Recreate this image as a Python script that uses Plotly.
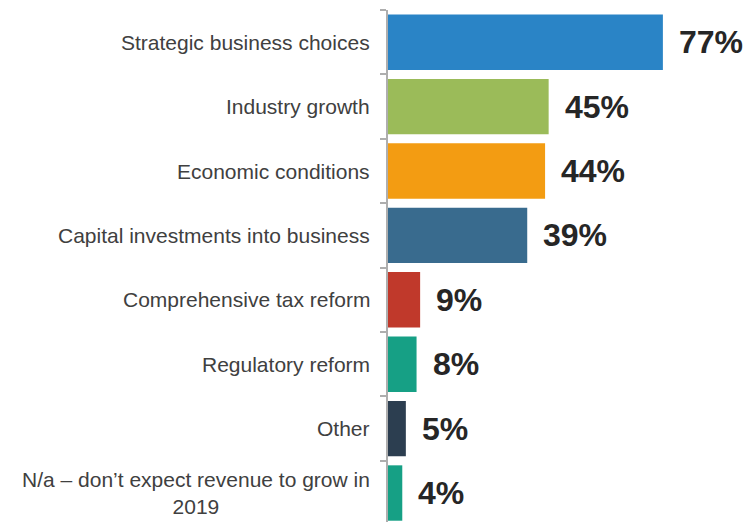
import plotly.graph_objects as go

categories = [
    "Strategic business choices",
    "Industry growth",
    "Economic conditions",
    "Capital investments into business",
    "Comprehensive tax reform",
    "Regulatory reform",
    "Other",
    "N/a – don’t expect revenue to grow in<br>2019",
]
values = [77, 45, 44, 39, 9, 8, 5, 4]
colors = ["#2A84C6", "#9BBB59", "#F39C12", "#396B8E",
          "#C0392B", "#16A085", "#2C3E50", "#16A085"]
value_labels = [f"{v}%" for v in values]

positions = list(range(len(categories)))

fig = go.Figure()
fig.add_trace(go.Bar(
    x=values,
    y=positions,
    orientation="h",
    marker=dict(color=colors, line=dict(width=0)),
    width=0.86,
    hoverinfo="skip",
))

annotations = []
for pos, cat in zip(positions, categories):
    annotations.append(dict(
        x=0, xref="paper", y=pos, yref="y",
        text=cat, showarrow=False, xanchor="right", yanchor="middle",
        xshift=-16, align="center",
        font=dict(family="Liberation Sans, Arial, sans-serif", size=21, color="#404040"),
    ))
for pos, v, lab in zip(positions, values, value_labels):
    annotations.append(dict(
        x=v, xref="x", y=pos, yref="y",
        text=f"<b>{lab}</b>", showarrow=False, xanchor="left", yanchor="middle",
        xshift=14,
        font=dict(family="Liberation Sans, Arial, sans-serif", size=32, color="#262626"),
    ))

fig.update_layout(
    width=745, height=522,
    margin=dict(l=388, r=0, t=10, b=0),
    paper_bgcolor="white", plot_bgcolor="white",
    showlegend=False,
    annotations=annotations,
    xaxis=dict(range=[0, 100], visible=False, fixedrange=True),
    yaxis=dict(
        type="linear",
        range=[7.45, -0.5],
        # ticks sit on the boundaries between categories
        tickmode="array",
        tickvals=[p - 0.5 for p in positions] + [len(positions) - 0.5],
        ticktext=[""] * (len(positions) + 1),
        showline=True, linecolor="#AEAEAE", linewidth=2,
        ticks="outside", ticklen=6, tickcolor="#AEAEAE", tickwidth=2,
        showgrid=False, zeroline=False, fixedrange=True,
    ),
)

fig.write_html("out.html")
